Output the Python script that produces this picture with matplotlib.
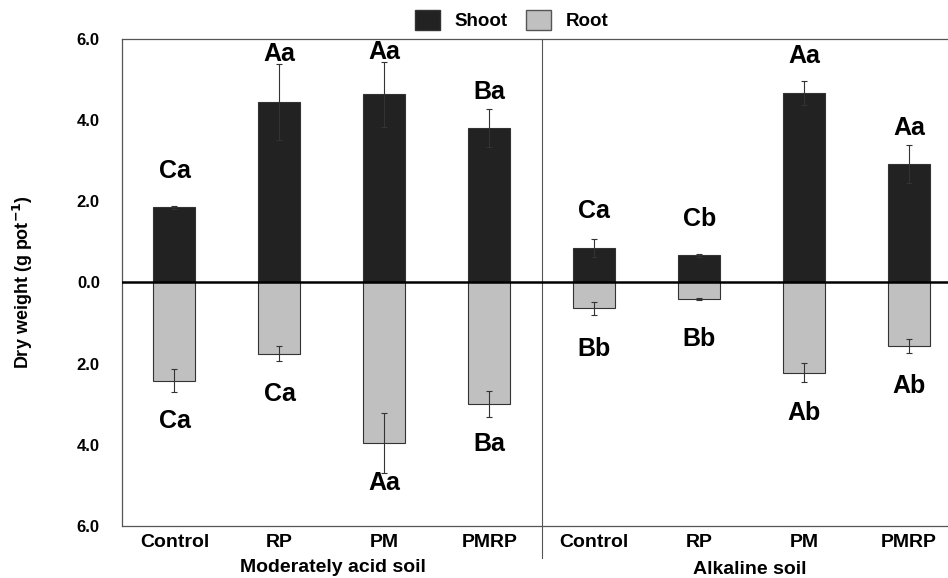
import numpy as np
import matplotlib.pyplot as plt
from matplotlib.patches import Patch

plt.rcParams['font.family'] = ['Liberation Sans', 'DejaVu Sans']
plt.rcParams['font.weight'] = 'bold'

treatments = ['Control', 'RP', 'PM', 'PMRP', 'Control', 'RP', 'PM', 'PMRP']
soils = ['Moderately acid soil', 'Alkaline soil']

shoot = [1.85, 4.45, 4.64, 3.80, 0.86, 0.67, 4.67, 2.91]
shoot_err = [0.03, 0.93, 0.80, 0.47, 0.22, 0.03, 0.30, 0.47]
shoot_lbl = ['Ca', 'Aa', 'Aa', 'Ba', 'Ca', 'Cb', 'Aa', 'Aa']

root = [2.42, 1.75, 3.95, 2.99, 0.64, 0.40, 2.22, 1.56]
root_err = [0.28, 0.18, 0.74, 0.32, 0.16, 0.03, 0.23, 0.17]
root_lbl = ['Ca', 'Ca', 'Aa', 'Ba', 'Bb', 'Bb', 'Ab', 'Ab']

fig = plt.figure(figsize=(9.48, 5.78), dpi=100)
ax = fig.add_axes([0.1287, 0.09, 0.8713, 0.8425])

x = np.arange(len(treatments))
w = 0.4
shoot_c = '#222222'
root_c = '#c0c0c0'

ax.bar(x, shoot, w, color=shoot_c, edgecolor='#333333', lw=0.8, zorder=2)
ax.bar(x, -np.array(root), w, color=root_c, edgecolor='#333333', lw=0.8, zorder=2)
ax.errorbar(x, shoot, yerr=shoot_err, fmt='none', ecolor='#333333', elinewidth=0.8,
            capsize=2.5, capthick=0.8, zorder=3)
ax.errorbar(x, -np.array(root), yerr=root_err, fmt='none', ecolor='#333333', elinewidth=0.8,
            capsize=2.5, capthick=0.8, zorder=3)

for i in range(len(x)):
    ys = max(shoot[i] + 0.9, shoot[i] + shoot_err[i] + 0.25)
    ax.text(x[i], ys, shoot_lbl[i], ha='center', va='center', fontsize=18, fontweight='bold')
    ax.text(x[i], -(root[i] + 1.0), root_lbl[i], ha='center', va='center', fontsize=18,
            fontweight='bold')

ax.axhline(0, color='black', lw=1.8, zorder=4)
ax.plot([3.5, 3.5], [6, -6.8], color='#555555', lw=0.8, clip_on=False, zorder=1)

ax.set_xlim(-0.5, 7.37)
ax.set_ylim(-6, 6)
ticks = [6, 4, 2, 0, -2, -4, -6]
ax.set_yticks(ticks)
ax.set_yticklabels(['%.1f' % abs(t) for t in ticks], fontsize=12, fontweight='bold')
ax.set_xticks(x)
ax.set_xticklabels(treatments, fontsize=14, fontweight='bold')
ax.tick_params(length=0, pad=16)
ax.tick_params(axis='x', pad=6)

for s in ['left', 'top', 'bottom']:
    ax.spines[s].set_color('#555555')
    ax.spines[s].set_linewidth(0.9)
ax.spines['right'].set_visible(False)

ax.set_ylabel('Dry weight (g pot$^{\\mathbf{-1}}$)', fontsize=13, fontweight='bold', labelpad=30)

fig.text(333 / 948, 1 - 567 / 578, soils[0], ha='center', va='center', fontsize=14,
         fontweight='bold')
fig.text(750 / 948, 1 - 570 / 578, soils[1], ha='center', va='center', fontsize=14,
         fontweight='bold')

handles = [Patch(facecolor=shoot_c, edgecolor='#333333', label='Shoot'),
           Patch(facecolor=root_c, edgecolor='#555555', label='Root')]
fig.legend(handles=handles, loc='center', bbox_to_anchor=(0.54, 0.965), ncol=2, frameon=False,
           prop={'size': 13.5, 'weight': 'bold'}, handlelength=1.3, handleheight=1.3,
           columnspacing=1.0, handletextpad=0.8)

fig.savefig('out.png', dpi=100)
